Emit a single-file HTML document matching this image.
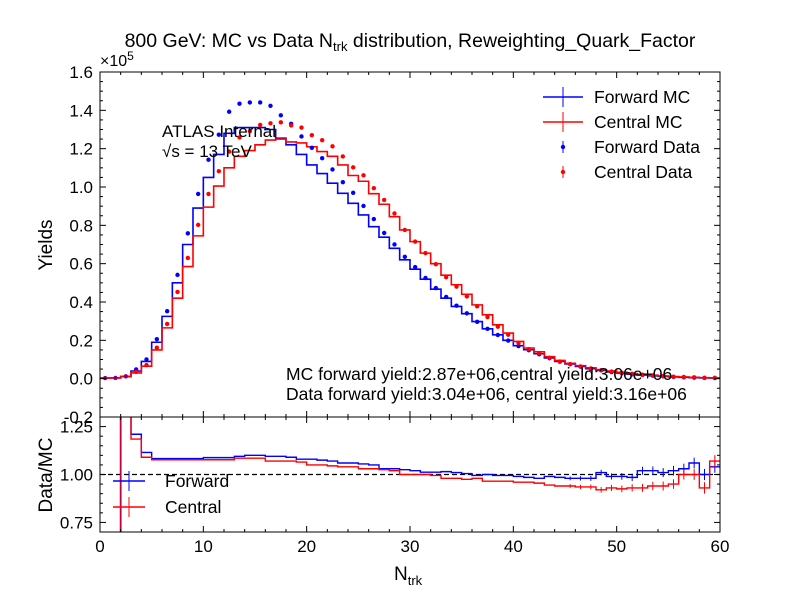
<!DOCTYPE html>
<html><head><meta charset="utf-8"><style>
body{margin:0;background:#fff;}
svg text{font-family:"Liberation Sans",sans-serif;fill:#000;}
</style></head><body>
<svg id="c" width="799" height="599" xmlns="http://www.w3.org/2000/svg"></svg>
<script>
const bins=[];for(let i=0;i<60;i++)bins.push(i);
const fwdMC=[0.003,0.004,0.012,0.04,0.09,0.19,0.325,0.5,0.70,0.89,1.05,1.17,1.28,1.31,1.31,1.31,1.30,1.255,1.22,1.17,1.115,1.07,1.02,0.967,0.915,0.854,0.793,0.738,0.68,0.62,0.571,0.519,0.467,0.42,0.377,0.339,0.298,0.26,0.229,0.2,0.172,0.151,0.13,0.108,0.09,0.077,0.064,0.052,0.043,0.035,0.029,0.023,0.019,0.015,0.012,0.009,0.007,0.005,0.004,0.003];
const cenMC=[0.003,0.004,0.01,0.03,0.065,0.15,0.265,0.42,0.585,0.745,0.895,1.005,1.10,1.16,1.19,1.22,1.245,1.25,1.235,1.23,1.21,1.185,1.16,1.115,1.06,1.03,0.965,0.91,0.845,0.776,0.715,0.655,0.6,0.54,0.49,0.44,0.385,0.333,0.281,0.238,0.194,0.16,0.14,0.115,0.095,0.08,0.068,0.057,0.047,0.04,0.033,0.027,0.022,0.018,0.014,0.011,0.009,0.007,0.005,0.004];
const fwdRatio=[1,1,1.6,1.21,1.115,1.083,1.083,1.083,1.083,1.083,1.088,1.088,1.088,1.095,1.1,1.1,1.095,1.095,1.09,1.08,1.08,1.075,1.07,1.06,1.06,1.055,1.05,1.03,1.03,1.025,1.02,1.012,1.012,1.015,1.01,1.005,0.995,1.0,0.995,0.995,0.99,0.985,0.98,0.99,0.985,0.98,0.98,0.98,1.01,0.99,0.99,0.985,1.02,1.02,1.01,1.02,1.03,1.06,1.0,1.04];
const cenRatio=[1,1,1.6,1.185,1.09,1.077,1.077,1.077,1.077,1.077,1.077,1.077,1.077,1.085,1.085,1.085,1.07,1.07,1.07,1.065,1.05,1.05,1.045,1.04,1.04,1.03,1.03,1.025,1.02,1.0,1.0,1.0,0.995,0.98,0.98,0.975,0.98,0.965,0.965,0.965,0.96,0.96,0.955,0.945,0.94,0.94,0.935,0.935,0.92,0.93,0.925,0.93,0.93,0.94,0.94,0.95,1.0,1.0,0.93,1.07];
const xTicks=[0,10,20,30,40,50,60];
const yTicks=[-0.2,0.0,0.2,0.4,0.6,0.8,1.0,1.2,1.4,1.6];
const rTicks=[0.75,1.00,1.25];
const NS="http://www.w3.org/2000/svg";const svg=document.getElementById('c');
const X0=100,X1=720,TY0=72,TY1=417,RY0=417,RY1=532;
const sx=v=>X0+(v/60)*(X1-X0);
const sy=v=>TY1-((v+0.2)/1.8)*(TY1-TY0);
const sr=v=>RY1-((v-0.7)/0.6)*(RY1-RY0);
function el(t,a,p){const e=document.createElementNS(NS,t);for(const k in a)e.setAttribute(k,a[k]);(p||svg).appendChild(e);return e;}
function txt(s,x,y,a){const e=el('text',Object.assign({x:x,y:y,'font-size':17},a||{}));e.textContent=s;return e;}
const clipT=el('clipPath',{id:'ct'});el('rect',{x:X0,y:TY0,width:X1-X0,height:TY1-TY0},clipT);
const clipR=el('clipPath',{id:'cr'});el('rect',{x:X0,y:RY0,width:X1-X0,height:RY1-RY0},clipR);
function stepPath(vals,f){let d='';vals.forEach((v,i)=>{d+=(i?'L':'M')+sx(i)+','+f(v)+'L'+sx(i+1)+','+f(v);});return d;}
const gt=el('g',{'clip-path':'url(#ct)'});
let p=el('path',{d:stepPath(fwdMC,sy),fill:'none',stroke:'#0000ff','stroke-width':1.6},gt);

p=el('path',{d:stepPath(cenMC,sy),fill:'none',stroke:'#ff0000','stroke-width':1.6},gt);

bins.forEach(i=>{if(i<3)return;
 let c=el('circle',{cx:sx(i+0.5),cy:sy(fwdMC[i]*fwdRatio[i]),r:2.2,fill:'#0000ff'},gt);
 
 c=el('circle',{cx:sx(i+0.5),cy:sy(cenMC[i]*cenRatio[i]),r:2.2,fill:'#ff0000'},gt);
 
});
[0,1,2].forEach(i=>{el('circle',{cx:sx(i+0.5),cy:sy(fwdMC[i]),r:2.2,fill:'#800080'},gt);});
const gr=el('g',{'clip-path':'url(#cr)'});
el('line',{x1:X0,x2:X1,y1:sr(1),y2:sr(1),stroke:'#000','stroke-dasharray':'5,3','stroke-width':1.2},gr);
p=el('path',{d:stepPath(fwdRatio.map((v,i)=>i<2?2:v),sr),fill:'none',stroke:'#0000ff','stroke-width':1.4},gr);

p=el('path',{d:stepPath(cenRatio.map((v,i)=>i<2?2:v),sr),fill:'none',stroke:'#ff0000','stroke-width':1.4},gr);

el('line',{x1:sx(2),x2:sx(2),y1:RY0,y2:RY1,stroke:'#c0003f','stroke-width':1.8},gr);
bins.forEach(i=>{if(i<45)return;const e=0.01+(i-45)*0.0015;
 el('line',{x1:sx(i+0.5),x2:sx(i+0.5),y1:sr(fwdRatio[i]-e),y2:sr(fwdRatio[i]+e),stroke:'#0000ff'},gr);
 el('line',{x1:sx(i+0.5),x2:sx(i+0.5),y1:sr(cenRatio[i]-e),y2:sr(cenRatio[i]+e),stroke:'#ff0000'},gr);});
el('rect',{x:X0,y:TY0,width:X1-X0,height:TY1-TY0,fill:'none',stroke:'#000','stroke-width':1});
el('rect',{x:X0,y:RY0,width:X1-X0,height:RY1-RY0,fill:'none',stroke:'#000','stroke-width':1});
[ [TY0,TY1],[RY0,RY1] ].forEach(([a,b])=>{
 for(let v=0;v<=60;v+=2){const L=v%10===0?6:3;const x=sx(v);
  el('line',{x1:x,x2:x,y1:b,y2:b-L,stroke:'#000'});el('line',{x1:x,x2:x,y1:a,y2:a+L,stroke:'#000'});}});
xTicks.forEach(v=>{const t=txt(String(v),sx(v),552,{'text-anchor':'middle'});});
for(let v=-0.2;v<=1.601;v+=0.05){const y=sy(v);const maj=Math.abs(Math.round(v*10)/10-v)<0.001&&Math.round(v*10)%2===0;const L=maj?6:3;
 el('line',{x1:X0,x2:X0+L,y1:y,y2:y,stroke:'#000'});el('line',{x1:X1,x2:X1-L,y1:y,y2:y,stroke:'#000'});}
yTicks.forEach(v=>{const t=txt(v.toFixed(1),93,sy(v)+6,{'text-anchor':'end'});});
for(let v=0.7;v<=1.301;v+=0.05){const y=sr(v);const maj=Math.abs(v*4-Math.round(v*4))<0.01;const L=maj?6:3;
 el('line',{x1:X0,x2:X0+L,y1:y,y2:y,stroke:'#000'});el('line',{x1:X1,x2:X1-L,y1:y,y2:y,stroke:'#000'});}
rTicks.forEach(v=>{const t=txt(v.toFixed(2),93,sr(v)+6,{'text-anchor':'end'});});
</script>
<svg width="799" height="599" style="position:absolute;left:0;top:0" xmlns="http://www.w3.org/2000/svg">
<text x="410" y="47" font-size="19.5" text-anchor="middle">800 GeV: MC vs Data N<tspan font-size="13" dy="4">trk</tspan><tspan dy="-4"> distribution, Reweighting_Quark_Factor</tspan></text>
<text x="100" y="66" font-size="16">×10<tspan font-size="12" dy="-6">5</tspan></text>
<text transform="translate(52,245) rotate(-90)" font-size="19" text-anchor="middle">Yields</text>
<text transform="translate(52,475) rotate(-90)" font-size="19" text-anchor="middle">Data/MC</text>
<text x="394" y="580" font-size="19">N<tspan font-size="13" dy="5">trk</tspan></text>
<text x="162" y="137" font-size="17">ATLAS Internal</text>
<text x="162" y="157" font-size="17">√s =  13 TeV</text>
<text x="286" y="380" font-size="17.5">MC forward yield:2.87e+06,central yield:3.06e+06</text>
<text x="286" y="400" font-size="17.5">Data forward yield:3.04e+06, central yield:3.16e+06</text>
<g>
<line x1="543" x2="583" y1="97" y2="97" stroke="#0000ff" stroke-width="1.6"/><line x1="563" x2="563" y1="87" y2="107" stroke="#0000ff"/>
<text x="594" y="103" font-size="17.5">Forward MC</text>
<line x1="543" x2="583" y1="122" y2="122" stroke="#ff0000" stroke-width="1.6"/><line x1="563" x2="563" y1="112" y2="132" stroke="#ff0000"/>
<text x="594" y="128" font-size="17.5">Central MC</text>
<circle cx="563" cy="147" r="2.2" fill="#0000ff"/><line x1="563" x2="563" y1="141" y2="153" stroke="#0000ff"/>
<text x="594" y="153" font-size="17.5">Forward Data</text>
<circle cx="563" cy="172" r="2.2" fill="#ff0000"/><line x1="563" x2="563" y1="166" y2="178" stroke="#ff0000"/>
<text x="594" y="178" font-size="17.5">Central Data</text>
</g>
<g>
<line x1="113" x2="145" y1="481" y2="481" stroke="#0000ff" stroke-width="1.6"/><line x1="129" x2="129" y1="471" y2="491" stroke="#0000ff"/>
<text x="165" y="487" font-size="17.5">Forward</text>
<line x1="113" x2="145" y1="507" y2="507" stroke="#ff0000" stroke-width="1.6"/><line x1="129" x2="129" y1="497" y2="517" stroke="#ff0000"/>
<text x="165" y="513" font-size="17.5">Central</text>
</g>
</svg>
</body></html>
